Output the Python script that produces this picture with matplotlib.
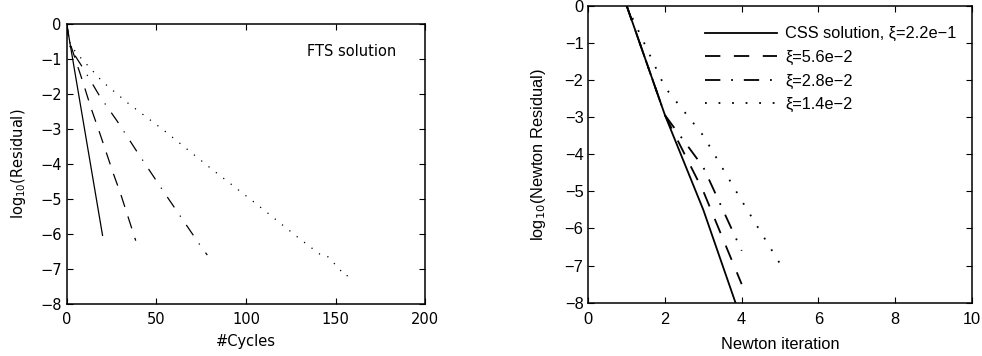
import numpy as np
import matplotlib.pyplot as plt

# ---- left panel: FTS solution, log10 residual vs cycles ----
fts_x1 = [0, 20]
fts_y1 = [0, -6.05]
fts_x2 = [0, 1.5, 9, 13.5, 18, 26, 30, 38.5]
fts_y2 = [0, -0.5, -1.66, -2.4, -3.06, -4.28, -4.85, -6.2]
fts_x3 = [0, 2, 9.5, 18.4, 28.1, 40, 55, 68, 76, 78.4]
fts_y3 = [0, -0.7, -1.3, -2.07, -2.78, -3.72, -4.87, -5.85, -6.45, -6.61]
fts_x4 = [0, 2, 5.6, 20, 34.4, 54, 80, 105, 130, 141, 144.5, 152.3, 154.6, 158.9]
fts_y4 = [0, -0.6, -0.85, -1.66, -2.28, -3.04, -4.12, -5.12, -6.15, -6.58, -6.6, -7.02, -7.2, -7.2]

# ---- right panel: CSS solution, Newton residual ----
newton_it = [1, 2, 3, 4]
css_res = [0, -2.95, -5.5, -8.48]
xi56_res = [0, -2.95, -5.0, -7.5]
xi28_res = [0, -2.95, -4.35, -6.6]
newton_it4 = [1, 2, 3, 4, 5]
xi14_res = [0, -2.2, -3.5, -5.25, -6.95]

legend_labels = ['CSS solution, ξ=2.2e−1', 'ξ=5.6e−2', 'ξ=2.8e−2', 'ξ=1.4e−2']

fig = plt.figure(figsize=(9.82, 3.56), dpi=100)

# left axes
ax1 = fig.add_axes([0.0679, 0.147, 0.3653, 0.7865])
ax1.plot(fts_x1, fts_y1, color='k', lw=0.9)
ax1.plot(fts_x2, fts_y2, color='k', lw=0.9, linestyle=(0, (10, 8)))
ax1.plot(fts_x3, fts_y3, color='k', lw=0.9, linestyle=(0, (10, 8, 1, 8)))
ax1.plot(fts_x4, fts_y4, color='k', lw=0.9, linestyle=(0, (1, 6.5)))
ax1.set_xlim(0, 200)
ax1.set_ylim(-8, 0)
ax1.set_xticks([0, 50, 100, 150, 200])
ax1.set_yticks(range(-8, 1))
ax1.set_xlabel('#Cycles', fontsize=10.5, labelpad=5)
ax1.set_ylabel('log$_{10}$(Residual)', fontsize=10.5, labelpad=9)
ax1.text(134, -0.8, 'FTS solution', fontsize=10.5, va='center')
ax1.tick_params(direction='in', top=True, right=True, labelsize=10.5, length=4)
ax1.tick_params(axis='x', pad=6)

# right axes
ax2 = fig.add_axes([0.5991, 0.1497, 0.3904, 0.8343])
font2 = 'Liberation Sans'
ax2.plot(newton_it, css_res, color='k', lw=1.3, label=legend_labels[0])
ax2.plot(newton_it, xi56_res, color='k', lw=1.3, linestyle=(0, (8.5, 7.5)), label=legend_labels[1])
ax2.plot(newton_it, xi28_res, color='k', lw=1.3, linestyle=(0, (8.5, 6, 1, 6)), label=legend_labels[2])
ax2.plot(newton_it4, xi14_res, color='k', lw=1.3, linestyle=(0, (1, 6.5)), label=legend_labels[3])
ax2.set_xlim(0, 10)
ax2.set_ylim(-8, 0)
ax2.set_xticks(range(0, 11, 2))
ax2.set_yticks(range(-8, 1))
ax2.set_xlabel('Newton iteration', fontsize=11.8, family=font2, labelpad=7)
ax2.set_ylabel('log$_{10}$(Newton Residual)', fontsize=11.8, family=font2, labelpad=12)
ax2.tick_params(direction='in', top=True, right=True, labelsize=11.8, length=4)
ax2.tick_params(axis='x', pad=7)
for lab in ax2.get_xticklabels() + ax2.get_yticklabels():
    lab.set_family(font2)
ax2.legend(loc='upper left', bbox_to_anchor=(0.283, 0.958), frameon=False,
           handlelength=4.4, handletextpad=0.5, labelspacing=0.52,
           borderpad=0, prop={'family': font2, 'size': 11.8})

for ax in (ax1, ax2):
    for s in ax.spines.values():
        s.set_linewidth(1.1)

fig.savefig('out.png', dpi=100)
